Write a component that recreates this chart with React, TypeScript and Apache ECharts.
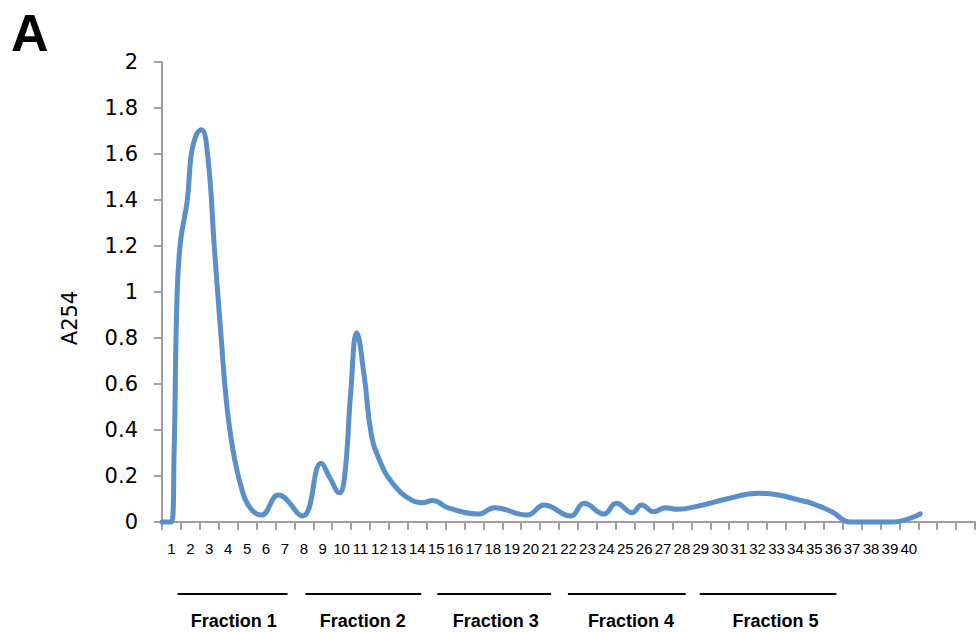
import React, { useEffect, useRef } from "react";
import * as echarts from "echarts";

// Elution profile (tube position, A254)
const tubePos: number[] = [
  0.5, 1.0, 1.14, 1.29, 1.47, 1.84, 2.05, 2.32, 2.58, 2.91, 3.28,
  3.64, 3.9, 4.25, 4.69, 5.13, 5.75, 6.66, 7.93, 8.92, 9.35, 9.88, 10.16,
  10.48, 10.8, 11.2, 11.56, 12.0, 12.7, 13.75, 14.28, 14.81, 15.69, 17.27, 18.07,
  19.82, 20.71, 22.12, 22.82, 23.87, 24.53, 25.37, 25.86, 26.51, 27.13, 27.74,
  28.89, 30.3, 32.06, 33.11, 34.17, 34.87, 35.93, 36.9, 39.1, 40.6,
];
const a254: number[] = [
  0, 0, 0.3, 0.965, 1.213, 1.4, 1.6, 1.685, 1.705, 1.6, 1.18,
  0.79, 0.53, 0.315, 0.152, 0.065, 0.03, 0.117, 0.026, 0.255, 0.197, 0.127,
  0.2, 0.56, 0.823, 0.632, 0.386, 0.27, 0.168, 0.093, 0.084, 0.093, 0.06, 0.035,
  0.062, 0.03, 0.074, 0.026, 0.081, 0.035, 0.081, 0.04, 0.074, 0.045, 0.062, 0.055,
  0.07, 0.099, 0.125, 0.117, 0.096, 0.081, 0.045, 0, 0, 0.035,
];

// Category tick labels
const tubeLabels: string[] = Array.from({ length: 40 }, (_, i) => String(i + 1));
const categoryCount = 43;

// Y axis
const yMin = 0;
const yMax = 2;
const yStep = 0.2;
const yName = "A254";

// Fraction groups: [start, end, label centre] in tube units
const fractionNames: string[] = ["Fraction 1", "Fraction 2", "Fraction 3", "Fraction 4", "Fraction 5"];
const fractionStart: number[] = [1.33, 8.09, 15.06, 21.97, 28.94];
const fractionEnd: number[] = [7.14, 14.21, 21.08, 28.2, 36.17];
const fractionLabelAt: number[] = [4.29, 11.12, 18.15, 25.3, 32.95];

const panelLetter = "A";

export default function App() {
  const ref = useRef<HTMLDivElement>(null);

  useEffect(() => {
    if (!ref.current) return;
    const chart = echarts.init(ref.current, undefined, { renderer: "svg" });
    const data = tubePos.map((x, i) => [x, a254[i]]);
    const axisGray = "#a0a0a0";

    chart.setOption({
      animation: false,
      backgroundColor: "#ffffff",
      grid: { left: 162, right: 1, top: 62, bottom: 111, containLabel: false },
      xAxis: [
        {
          type: "value",
          position: "bottom",
          min: 0.5,
          max: categoryCount + 0.5,
          interval: 1,
          axisLine: { show: true, onZero: false, lineStyle: { color: axisGray, width: 2 } },
          axisTick: { show: true, inside: false, length: 8, lineStyle: { color: axisGray, width: 2 } },
          axisLabel: { show: false },
          splitLine: { show: false },
        },
        {
          type: "value",
          position: "bottom",
          min: 0.5,
          max: categoryCount + 0.5,
          interval: 0.5,
          axisLine: { show: false, onZero: false },
          axisTick: { show: false },
          splitLine: { show: false },
          axisLabel: {
            show: true,
            margin: 19,
            color: "#000",
            fontFamily: "Liberation Sans",
            fontSize: 15,
            showMinLabel: true,
            showMaxLabel: true,
            formatter: (v: number) => {
              const r = Math.round(v);
              if (Math.abs(v - r) > 1e-6) return "";
              return tubeLabels[r - 1] ?? "";
            },
          },
        },
      ],
      yAxis: {
        type: "value",
        min: yMin,
        max: yMax,
        interval: yStep,
        name: yName,
        nameLocation: "middle",
        nameRotate: 90,
        nameGap: 82,
        nameTextStyle: {
          color: "#000",
          fontFamily: "DejaVu Sans",
          fontSize: 21,
          padding: [0, 52, 0, 0],
        },
        axisLine: { show: true, lineStyle: { color: axisGray, width: 2 } },
        axisTick: { show: true, inside: false, length: 8, lineStyle: { color: axisGray, width: 2 } },
        axisLabel: {
          color: "#000",
          fontFamily: "DejaVu Sans",
          fontSize: 21,
          margin: 24,
          formatter: (v: number) => String(Math.round(v * 10) / 10),
        },
        splitLine: { show: false },
      },
      series: [
        {
          type: "line",
          xAxisIndex: 0,
          data,
          smooth: 0.45,
          showSymbol: false,
          symbol: "none",
          clip: false,
          lineStyle: { color: "#5b8fc9", width: 5, cap: "round", join: "round" },
        },
      ],
    });

    const lineY = 594;
    const textY = 621;
    const graphics: any[] = [
      {
        type: "text",
        left: 11,
        top: 7,
        style: {
          text: panelLetter,
          font: "bold 52px 'Liberation Sans', Arial, sans-serif",
          fill: "#000",
        },
      },
    ];
    fractionNames.forEach((name, i) => {
      const x1 = chart.convertToPixel({ xAxisIndex: 0 }, fractionStart[i]) as number;
      const x2 = chart.convertToPixel({ xAxisIndex: 0 }, fractionEnd[i]) as number;
      const xt = chart.convertToPixel({ xAxisIndex: 0 }, fractionLabelAt[i]) as number;
      graphics.push({
        type: "line",
        shape: { x1, y1: lineY, x2, y2: lineY },
        style: { stroke: "#000", lineWidth: 2 },
      });
      graphics.push({
        type: "text",
        x: xt,
        y: textY,
        style: {
          text: name,
          font: "bold 18px 'Liberation Sans', Arial, sans-serif",
          fill: "#000",
          textAlign: "center",
          textVerticalAlign: "middle",
        },
      });
    });
    chart.setOption({ graphic: graphics });

    return () => chart.dispose();
  }, []);

  return (
    <div
      ref={ref}
      style={{ position: "absolute", left: 0, top: 0, width: 978, height: 633 }}
    />
  );
}
